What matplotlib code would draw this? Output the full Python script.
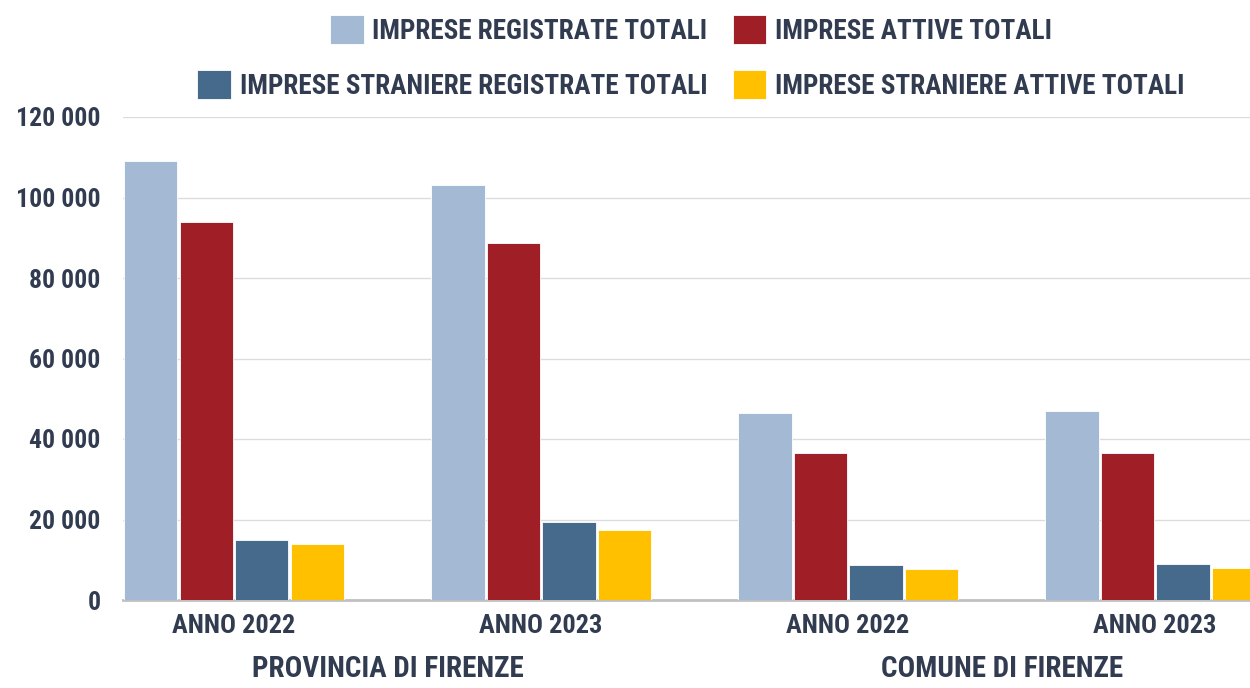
import matplotlib
matplotlib.use('Agg')
import matplotlib.pyplot as plt
import matplotlib.ticker as mticker
import numpy as np

# data
groups = ["ANNO 2022", "ANNO 2023", "ANNO 2022", "ANNO 2023"]
areas = ["PROVINCIA DI FIRENZE", "COMUNE DI FIRENZE"]
series_names = ["IMPRESE REGISTRATE TOTALI", "IMPRESE ATTIVE TOTALI",
                "IMPRESE STRANIERE REGISTRATE TOTALI", "IMPRESE STRANIERE ATTIVE TOTALI"]
registrate = [109000, 103100, 46400, 46950]
attive = [94000, 88700, 36500, 36400]
straniere_registrate = [14900, 19300, 8800, 9000]
straniere_attive = [13900, 17400, 7650, 7900]
colors = ["#a4b9d3", "#a01f26", "#466a8c", "#ffc000"]
yticks = [0, 20000, 40000, 60000, 80000, 100000, 120000]

TXT = "#323c51"
plt.rcParams['font.family'] = ['Roboto Condensed', 'Roboto', 'DejaVu Sans']
plt.rcParams['font.weight'] = 'bold'

fig = plt.figure(figsize=(12.5, 6.88), dpi=100)
ax = fig.add_axes([123 / 1250, 1 - 600 / 688, 1127 / 1250, 483 / 688])

x = np.arange(len(groups))
pitch = 0.1808
width = 0.174
all_series = [registrate, attive, straniere_registrate, straniere_attive]
containers = []
for i, vals in enumerate(all_series):
    c = ax.bar(x + (i - 1.5) * pitch, vals, width, color=colors[i],
               label=series_names[i], zorder=3, edgecolor='white', linewidth=0.6)
    containers.append(c)

ax.set_xlim(-0.3616, 3.309)
ax.set_ylim(0, 120000)
ax.set_yticks(yticks)
ax.yaxis.set_major_formatter(mticker.FuncFormatter(lambda v, p: f"{int(v):,}".replace(",", " ")))
ax.grid(axis='y', color='#dcdcdc', linewidth=1, zorder=0)
ax.set_axisbelow(True)
for s in ['top', 'right', 'left']:
    ax.spines[s].set_visible(False)
ax.spines['bottom'].set_color('#c0c0c0')
ax.spines['bottom'].set_linewidth(2)
ax.spines['bottom'].set_zorder(2)

ax.set_xticks(x)
ax.set_xticklabels(groups)
ax.tick_params(axis='y', length=0, pad=16, labelsize=18.5, labelcolor=TXT)
ax.tick_params(axis='x', length=0, pad=10, labelsize=19, labelcolor=TXT)

# area labels under each pair of groups
ax.text(0.5, -0.142, areas[0], transform=ax.get_xaxis_transform(),
        ha='center', va='center', fontsize=21, color=TXT)
ax.text(2.5, -0.142, areas[1], transform=ax.get_xaxis_transform(),
        ha='center', va='center', fontsize=21, color=TXT)

# legend: two rows, each centred on its own
leg_kw = dict(loc='center', frameon=False, ncol=2, fontsize=19.5, labelcolor=TXT,
              handlelength=1.25, handleheight=1.25, handletextpad=0.33,
              columnspacing=0.92, borderpad=0, borderaxespad=0)
fig.legend(containers[:2], series_names[:2],
           bbox_to_anchor=(691 / 1250, 1 - 30 / 688), **leg_kw)
fig.legend(containers[2:], series_names[2:],
           bbox_to_anchor=(691 / 1250, 1 - 85 / 688), **leg_kw)

fig.savefig("out.png", dpi=100, facecolor='white')
